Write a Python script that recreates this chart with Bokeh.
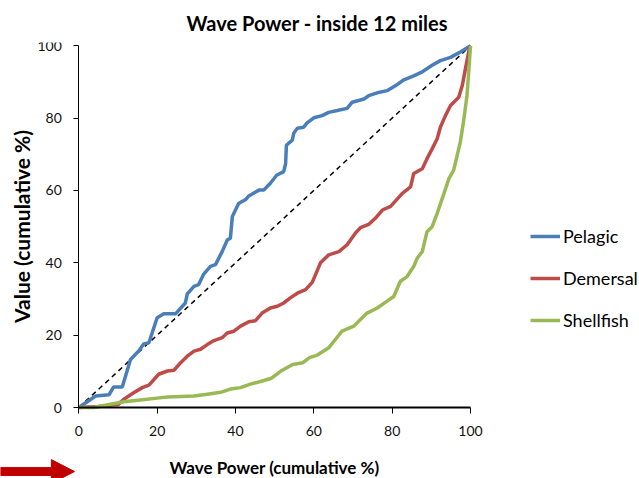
from bokeh.plotting import figure
from bokeh.models import Range1d, FixedTicker, Legend, LegendItem, PolyAnnotation
from bokeh.embed import file_html
from bokeh.resources import INLINE

FONT = "Lato"

pelagic_x = [0, 4.3, 7.7, 8.9, 11.1, 13.2, 15.3, 16.6, 17.9, 20.0, 21.7, 24.7, 27.2, 27.7, 29.4, 30.6,
             31.9, 33.6, 34.9, 36.6, 37.9, 38.7, 39.2, 40.8, 42.6, 43.4, 44.7, 46.0, 47.2, 48.9, 50.5,
             52.3, 52.8, 53.0, 54.5, 54.9, 55.8, 57.4, 58.3, 60.0, 62.1, 63.8, 66.0, 68.5, 69.8, 72.8,
             74.0, 76.2, 78.7, 80.9, 83.0, 85.5, 87.7, 90.2, 92.3, 94.9, 97.4, 100]
pelagic_y = [0, 3.2, 3.5, 5.7, 5.7, 13.3, 15.6, 17.6, 17.9, 24.8, 25.9, 25.9, 28.9, 31.4, 33.5, 34.0,
             36.9, 39.0, 39.5, 43.1, 46.3, 46.8, 52.8, 56.4, 57.5, 58.5, 59.3, 60.1, 60.1, 62.0, 64.2,
             65.2, 67.4, 72.5, 73.9, 75.9, 77.2, 77.5, 78.7, 80.1, 80.7, 81.6, 82.1, 82.7, 84.4, 85.3,
             86.2, 87.0, 87.6, 89.0, 90.6, 91.7, 92.8, 94.6, 95.9, 96.8, 98.3, 100]

demersal_x = [0, 5, 10, 11.5, 14.0, 16.2, 17.9, 20.4, 22.6, 24.3, 26.0, 27.7, 29.4, 31.1, 32.8, 34.5,
              36.6, 37.9, 39.6, 41.3, 43.4, 45.1, 46.8, 48.9, 50.7, 52.3, 54.0, 55.8, 57.9, 59.6, 61.7,
              63.8, 66.4, 68.5, 70.6, 71.9, 74.0, 75.7, 77.5, 79.6, 82.6, 84.7, 85.5, 87.7, 88.9, 90.2,
              91.5, 92.3, 93.6, 94.9, 97.0, 97.9, 98.7, 99.6, 100]
demersal_y = [0, 0.3, 0.8, 2.3, 4.1, 5.5, 6.2, 9.2, 10.1, 10.3, 12.4, 14.2, 15.6, 16.1, 17.4, 18.5,
              19.3, 20.6, 21.1, 22.5, 23.7, 24.0, 26.1, 27.5, 28.0, 28.9, 30.3, 31.6, 32.6, 34.6, 40.0,
              42.2, 43.1, 45.0, 48.2, 49.7, 50.6, 52.3, 54.6, 55.6, 59.2, 61.0, 64.7, 66.0, 68.8, 71.5,
              74.3, 77.5, 80.7, 83.5, 85.8, 89.0, 93.6, 98.6, 100]

shellfish_x = [0, 3.8, 8.1, 11.5, 15.7, 20.0, 22.6, 29.4, 32.8, 36.2, 38.7, 41.3, 43.6, 46.4, 49.2,
               51.5, 54.6, 57.2, 58.9, 60.9, 63.8, 65.5, 67.2, 70.2, 71.9, 73.6, 76.2, 78.7, 80.4, 82.1,
               83.8, 85.5, 86.4, 87.7, 88.9, 90.2, 91.5, 92.8, 94.5, 95.7, 96.6, 97.4, 98.2, 99.1, 99.6, 100]
shellfish_y = [0, 0, 0.9, 1.6, 2.1, 2.6, 2.9, 3.2, 3.7, 4.2, 5.1, 5.5, 6.4, 7.2, 8.1,
               10.0, 11.9, 12.4, 13.8, 14.5, 16.5, 18.8, 21.1, 22.5, 24.3, 26.1, 27.5, 29.4, 30.7, 34.9,
               36.2, 39.0, 41.3, 43.1, 48.6, 50.0, 53.7, 57.8, 63.3, 65.6, 69.7, 73.4, 78.9, 86.2, 93.6, 100]

equality_x = [0, 100]
equality_y = [0, 100]

tick_values = [0, 20, 40, 60, 80, 100]

# page layout (pixels): where the 0..100 axes sit on the 639x478 canvas
W, H, TOP = 639, 478, 40
X0_PX, X100_PX = 78.3, 470.0
Y0_PX, Y100_PX = 406.7, 43.3
sx = (X100_PX - X0_PX) / 100.0
sy = (Y0_PX - Y100_PX) / 100.0
x_range = Range1d(-X0_PX / sx, (W - X0_PX) / sx)
y_range = Range1d(-(H - Y0_PX) / sy, (Y0_PX - TOP) / sy)

p = figure(width=W, height=H, output_backend="svg", toolbar_location=None,
           x_range=x_range, y_range=y_range,
           min_border_left=0, min_border_right=0, min_border_top=TOP, min_border_bottom=0,
           title="Wave Power - inside 12 miles")
p.outline_line_color = None
p.xgrid.visible = False
p.ygrid.visible = False
p.background_fill_color = "white"
p.border_fill_color = "white"

p.title.text_font = FONT
p.title.text_font_size = "20px"
p.title.text_font_style = "bold"
p.title.text_color = "#000000"
p.title.align = "left"
p.title.offset = 186
p.title.standoff = 16

for ax in (p.xaxis[0], p.yaxis[0]):
    ax.fixed_location = 0
    ax.bounds = (0, 100)
    ax.ticker = FixedTicker(ticks=tick_values)
    ax.minor_tick_line_color = None
    ax.major_tick_in = 0
    ax.major_label_text_font = FONT
    ax.major_label_text_font_size = "14px"
    ax.major_label_text_color = "#111111"
    ax.axis_label_text_font = FONT
    ax.axis_label_text_font_style = "bold"
    ax.axis_label_text_color = "#000000"
    ax.axis_line_color = "#000000"
    ax.major_tick_line_color = "#000000"

p.xaxis.axis_label = "Wave Power (cumulative %)"
p.xaxis.axis_label_text_font_size = "17px"
p.xaxis.axis_line_width = 2
p.xaxis.major_tick_out = 6
p.xaxis.major_label_standoff = 12
p.xaxis.axis_label_standoff = 18

p.yaxis.axis_label = "Value (cumulative %)"
p.yaxis.axis_label_text_font_size = "21px"
p.yaxis.axis_line_width = 1
p.yaxis.major_tick_out = 5
p.yaxis.major_label_standoff = 12
p.yaxis.axis_label_standoff = 0

p.line(equality_x, equality_y, line_color="black", line_width=1.5, line_dash="5 4")
r1 = p.line(pelagic_x, pelagic_y, line_color="#4A7EBB", line_width=3.5)
r2 = p.line(demersal_x, demersal_y, line_color="#BE4B48", line_width=3.5)
r3 = p.line(shellfish_x, shellfish_y, line_color="#98B954", line_width=3.5)

legend = Legend(items=[LegendItem(label="Pelagic", renderers=[r1]),
                       LegendItem(label="Demersal", renderers=[r2]),
                       LegendItem(label="Shellfish", renderers=[r3])],
                location=(530, H - 331), orientation="vertical",
                glyph_width=30, glyph_height=22, label_height=22, spacing=20,
                padding=0, margin=0, label_standoff=3,
                label_text_font=FONT, label_text_font_size="18px",
                label_text_color="#000000",
                border_line_color=None, background_fill_alpha=0)
p.add_layout(legend, "center")

# decorative red arrow in the lower-left corner
arrow_xs = [-20, -7, -7, -1.1, -7, -7, -20]
arrow_ys = [-16.6, -16.6, -14.4, -17.7, -21.0, -18.8, -18.8]
p.add_layout(PolyAnnotation(xs=arrow_xs, ys=arrow_ys, fill_color="#C00000", fill_alpha=1,
                            line_color="#C00000", line_alpha=1))

open("out.html", "w").write(file_html(p, INLINE))
